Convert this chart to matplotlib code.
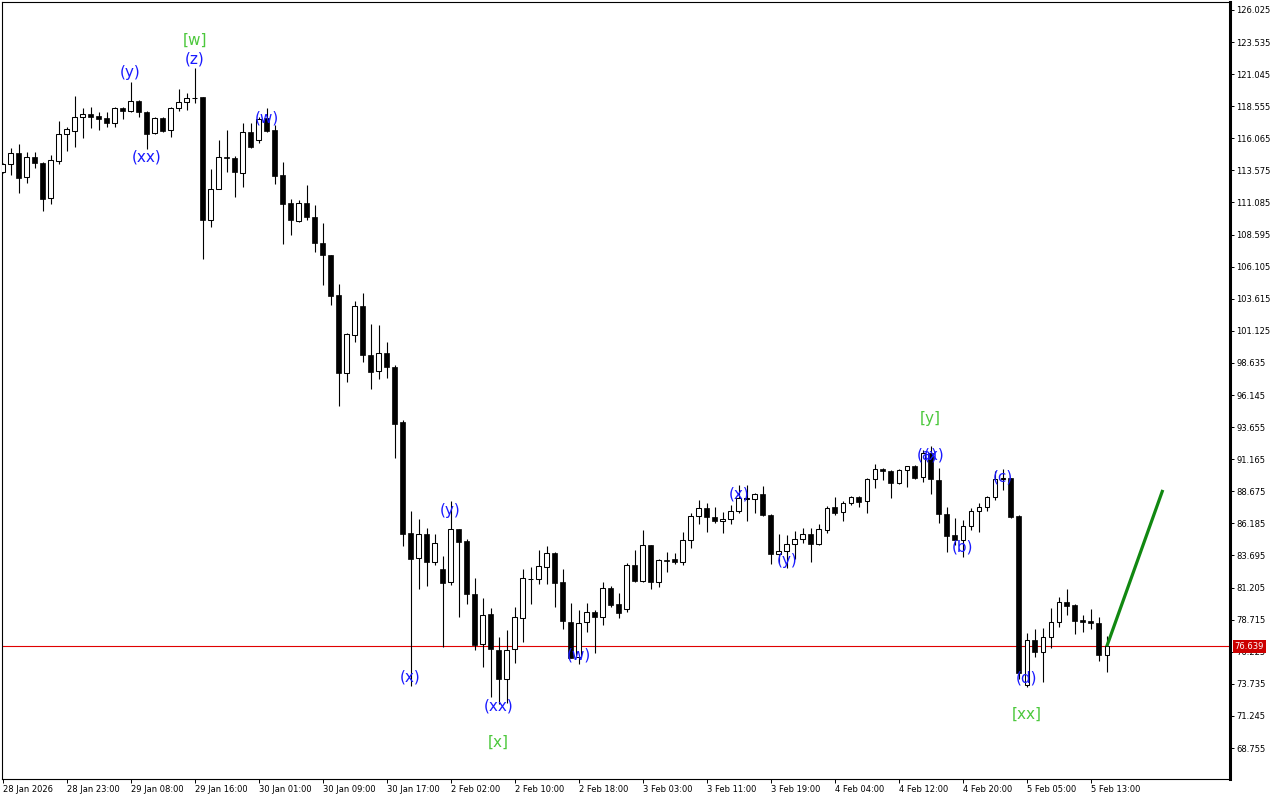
import matplotlib
matplotlib.use("Agg")
import matplotlib.pyplot as plt
from matplotlib.transforms import blended_transform_factory, offset_copy

# ---------------- data ----------------
opens = [113.45, 114.07, 114.93, 113.06, 114.62, 114.15, 111.44, 114.31, 116.40, 116.63,
         117.72, 117.95, 117.80, 117.64, 117.25, 118.42, 118.19, 118.96, 118.11, 116.48,
         117.64, 116.71, 118.42, 118.88, 119.16, 119.27, 109.73, 112.13, 114.58, 114.54,
         113.38, 116.56, 115.94, 117.64, 116.71, 113.22, 111.05, 109.65, 111.05, 109.96,
         107.94, 107.01, 103.91, 97.89, 100.80, 103.05, 99.25, 98.01, 99.41, 98.32,
         94.05, 85.44, 83.50, 85.36, 83.19, 82.65, 81.64, 85.75, 84.82, 80.71,
         76.83, 79.15, 76.36, 74.11, 76.44, 78.84, 81.83, 81.87, 82.80, 83.89,
         81.64, 78.53, 75.81, 78.53, 79.31, 78.92, 81.17, 79.93, 79.54, 82.96,
         81.72, 84.51, 81.64, 83.34, 83.42, 83.19, 84.90, 86.76, 87.38, 86.68,
         86.37, 86.52, 87.15, 88.08, 88.08, 88.47, 86.84, 83.81, 84.04, 84.59,
         84.97, 85.36, 84.59, 85.67, 87.46, 87.07, 87.77, 88.23, 87.92, 89.63,
         90.41, 90.25, 89.32, 90.33, 90.64, 89.79, 91.65, 89.55, 86.91, 85.28,
         84.90, 85.98, 87.15, 87.46, 88.23, 89.63, 89.71, 86.76, 73.64, 77.14,
         76.21, 77.37, 78.53, 80.09, 79.85, 78.69, 78.61, 78.46, 75.97]
highs = [114.15, 115.32, 115.63, 115.00, 115.00, 114.23, 114.77, 117.41, 116.94, 119.35,
         118.42, 118.50, 118.11, 118.11, 118.50, 118.50, 120.44, 119.04, 118.19, 117.72,
         117.72, 118.50, 119.89, 119.58, 121.52, 119.27, 113.69, 115.94, 116.71, 114.69,
         117.25, 117.25, 117.72, 118.42, 117.10, 114.23, 111.36, 111.28, 112.44, 110.89,
         109.50, 107.01, 104.76, 100.96, 103.44, 104.06, 101.66, 101.58, 100.26, 98.48,
         94.21, 87.15, 86.52, 85.83, 85.36, 83.65, 87.92, 85.75, 84.97, 81.95,
         80.40, 79.62, 77.37, 77.91, 79.70, 82.65, 82.80, 84.12, 84.43, 83.97,
         82.65, 80.01, 79.46, 80.01, 79.46, 81.64, 81.33, 80.78, 83.11, 84.12,
         85.67, 84.51, 83.42, 83.97, 83.89, 85.52, 86.99, 88.00, 87.77, 87.46,
         87.07, 87.61, 89.16, 89.16, 88.54, 89.09, 86.91, 85.36, 85.28, 85.59,
         85.83, 85.83, 86.14, 87.54, 88.23, 87.92, 88.31, 88.31, 89.71, 90.79,
         90.48, 90.33, 90.41, 90.64, 90.72, 91.88, 92.19, 90.48, 87.46, 86.60,
         86.45, 87.38, 87.77, 88.31, 90.25, 90.41, 89.71, 86.84, 77.68, 77.99,
         78.07, 79.62, 80.47, 81.09, 79.93, 79.08, 79.54, 78.92, 77.45]
lows = [113.38, 113.22, 111.82, 112.60, 113.76, 110.43, 110.97, 114.07, 115.08, 115.39,
        116.09, 116.87, 116.71, 116.94, 116.94, 117.57, 118.11, 117.72, 115.24, 116.40,
        116.56, 116.17, 118.19, 118.27, 118.81, 106.70, 109.19, 112.10, 113.45, 111.51,
        112.29, 115.32, 115.70, 116.56, 112.52, 107.87, 108.56, 109.60, 109.73, 107.24,
        104.71, 103.13, 95.29, 97.16, 100.26, 98.67, 96.61, 97.42, 97.50, 91.26,
        84.43, 73.57, 81.09, 81.33, 82.96, 76.59, 81.40, 78.92, 79.93, 76.36,
        75.04, 72.71, 72.17, 72.25, 75.35, 76.98, 79.93, 81.48, 81.48, 79.70,
        77.99, 75.74, 75.27, 77.76, 76.13, 78.30, 79.70, 78.84, 79.31, 81.64,
        81.64, 81.09, 81.25, 82.41, 83.03, 82.96, 84.27, 86.14, 85.52, 86.21,
        85.44, 86.14, 86.99, 86.37, 86.99, 86.76, 83.03, 83.11, 82.72, 83.42,
        84.66, 83.19, 84.51, 85.44, 86.84, 86.37, 87.61, 87.46, 86.99, 88.93,
        89.55, 88.16, 89.24, 89.01, 89.63, 89.40, 88.47, 86.21, 83.97, 84.51,
        83.58, 85.67, 85.52, 87.15, 88.00, 88.78, 86.60, 74.11, 73.49, 75.81,
        73.88, 76.52, 78.15, 79.08, 77.60, 77.76, 77.99, 75.50, 74.65]
closes = [114.07, 114.93, 112.99, 114.62, 114.15, 111.36, 114.38, 116.40, 116.79, 117.72,
          117.95, 117.72, 117.57, 117.25, 118.42, 118.19, 118.96, 118.11, 116.40, 117.64,
          116.63, 118.42, 118.88, 119.20, 119.20, 109.73, 112.13, 114.62, 114.54, 113.45,
          116.56, 115.39, 117.57, 116.63, 113.14, 110.97, 109.73, 111.05, 109.96, 107.94,
          107.04, 103.83, 97.89, 100.88, 103.05, 99.28, 97.93, 99.41, 98.28, 93.90,
          85.39, 83.45, 85.36, 83.19, 84.66, 81.56, 85.75, 84.74, 80.71, 76.75,
          79.08, 76.44, 74.11, 76.36, 78.92, 81.95, 81.87, 82.88, 83.89, 81.56,
          78.61, 75.74, 78.46, 79.31, 78.92, 81.17, 79.85, 79.23, 82.96, 81.72,
          84.51, 81.64, 83.34, 83.30, 83.19, 84.90, 86.76, 87.38, 86.68, 86.37,
          86.52, 87.15, 88.16, 88.12, 88.47, 86.84, 83.81, 84.04, 84.59, 84.97,
          85.36, 84.59, 85.75, 87.38, 86.99, 87.77, 88.23, 87.85, 89.63, 90.41,
          90.25, 89.32, 90.33, 90.64, 89.71, 91.65, 89.63, 86.91, 85.20, 84.90,
          85.98, 87.15, 87.46, 88.23, 89.63, 89.71, 86.68, 74.58, 77.14, 76.21,
          77.37, 78.53, 80.09, 79.78, 78.61, 78.57, 78.46, 75.97, 76.639]

current_price = 76.639
forecast_bars = [138, 145]
forecast_prices = [76.639, 88.78]

xtick_bars = [0, 8, 16, 24, 32, 40, 48, 56, 64, 72, 80, 88, 96, 104, 112, 120, 128, 136]
xtick_labels = ["28 Jan 2026", "28 Jan 23:00", "29 Jan 08:00", "29 Jan 16:00",
                "30 Jan 01:00", "30 Jan 09:00", "30 Jan 17:00", "2 Feb 02:00",
                "2 Feb 10:00", "2 Feb 18:00", "3 Feb 03:00", "3 Feb 11:00",
                "3 Feb 19:00", "4 Feb 04:00", "4 Feb 12:00", "4 Feb 20:00",
                "5 Feb 05:00", "5 Feb 13:00"]
ytick_values = [126.025, 123.535, 121.045, 118.555, 116.065, 113.575, 111.085, 108.595,
                106.105, 103.615, 101.125, 98.635, 96.145, 93.655, 91.165, 88.675,
                86.185, 83.695, 81.205, 78.715, 76.225, 73.735, 71.245, 68.755]

wave_labels = ["[w]", "(z)", "(y)", "(xx)", "(w)", "(y)", "(x)", "(xx)", "[x]", "(w)",
               "(x)", "(y)", "[y]", "(a)", "(x)", "(b)", "(c)", "(d)", "[xx]"]
wave_bars = [24, 24, 16, 18, 33, 56, 51, 62, 62, 72, 92, 98, 116, 116, 116, 120, 125, 128, 128]
wave_prices = [123.70, 122.22, 121.14, 114.62, 117.64, 87.22, 74.26, 72.01, 69.22, 75.97,
               88.47, 83.34, 94.36, 91.49, 91.49, 84.35, 89.78, 74.19, 71.39]
wave_degree = ["major", "minor", "minor", "minor", "minor", "minor", "minor", "minor", "major",
               "minor", "minor", "minor", "major", "minor", "minor", "minor", "minor", "minor",
               "major"]
wave_dx = [0, 0, 0, 0, 0, 0, 0, 0, 0, 0, 0, 0, 0, -3.5, 3.5, 0, 0, 0, 0]  # pixel nudges

# ---------------- figure ----------------
W, H = 1280, 800
fig = plt.figure(figsize=(12.8, 8), dpi=100)
fig.patch.set_facecolor("white")
ax = fig.add_axes([2 / W, 21 / H, 1228 / W, 777 / H])
ax.set_facecolor("white")
ax.set_xlim(-0.0625, 153.4)
ax.set_ylim(66.35, 126.64)

idx = list(range(len(opens)))
ax.vlines(idx, lows, highs, color="black", linewidth=0.8, zorder=2)
for i in idx:
    o, c = opens[i], closes[i]
    bottom = min(o, c)
    height = max(abs(c - o), 0.03)
    if c >= o:
        ax.bar(i, height, bottom=bottom, width=0.55, facecolor="white",
               edgecolor="black", linewidth=0.75, zorder=3)
    else:
        ax.bar(i, height, bottom=bottom, width=0.62, facecolor="black",
               edgecolor="black", linewidth=0.5, zorder=3)

ax.axhline(current_price, color="#e00000", linewidth=0.8, zorder=1)
ax.plot(forecast_bars, forecast_prices, color="#118811", linewidth=2.3,
        solid_capstyle="butt", zorder=4)

for txt, b, p, deg, dx in zip(wave_labels, wave_bars, wave_prices, wave_degree, wave_dx):
    col = "#4cc83c" if deg == "major" else "#1a1aff"
    tr = offset_copy(ax.transData, fig=fig, x=dx * 72 / 100, y=0, units="points")
    ax.text(b, p, txt, color=col, fontsize=11, ha="center", va="center",
            family="DejaVu Sans", transform=tr, zorder=5)

# ---------------- axes styling ----------------
for side in ["left", "top", "bottom"]:
    ax.spines[side].set_linewidth(0.8)
    ax.spines[side].set_color("black")
ax.spines["right"].set_linewidth(2.2)
ax.spines["right"].set_color("black")

ax.set_xticks(xtick_bars)
ax.set_xticklabels(xtick_labels, fontsize=6, family="DejaVu Sans")
for lab in ax.get_xticklabels():
    lab.set_horizontalalignment("left")
ax.tick_params(axis="x", direction="out", length=3, width=0.7, pad=1, colors="black")

ax.yaxis.tick_right()
ax.set_yticks(ytick_values)
ax.set_yticklabels([f"{v:.3f}" for v in ytick_values], fontsize=6, family="DejaVu Sans")
ax.tick_params(axis="y", direction="out", length=3, width=0.7, pad=1.5, colors="black")

bt = blended_transform_factory(ax.transAxes, ax.transData)
ax.text(1.0038, current_price, f"{current_price:.3f}", transform=bt, ha="left",
        va="center", fontsize=6, color="white", family="DejaVu Sans",
        bbox=dict(boxstyle="square,pad=0.25", facecolor="#cc0000", edgecolor="none"),
        zorder=10, clip_on=False)

fig.savefig("out.png", dpi=100, facecolor="white")
